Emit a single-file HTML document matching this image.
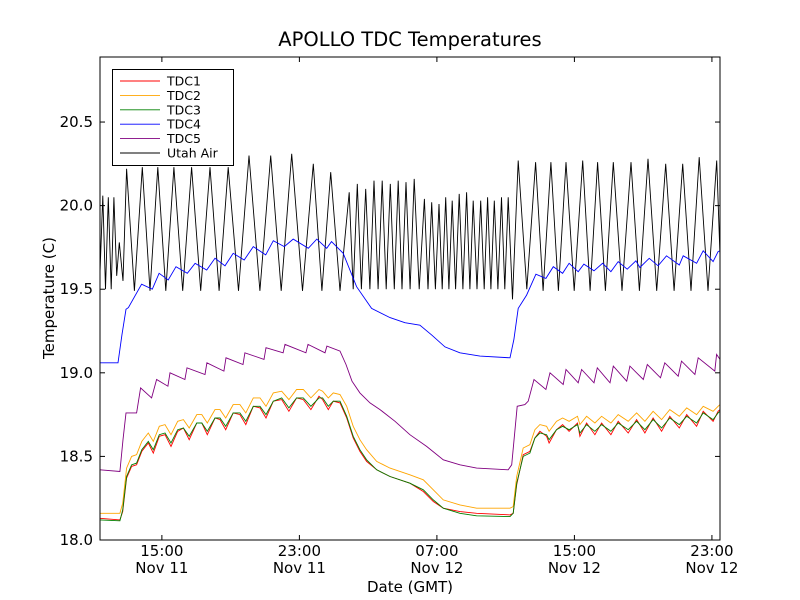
<!DOCTYPE html>
<html><head><meta charset="utf-8"><style>
body{margin:0;background:#fff;}
svg{display:block;font-family:"DejaVu Sans","Liberation Sans",sans-serif;}
</style></head><body>
<svg id="chart" width="800" height="600" viewBox="0 0 800 600">
<rect x="0" y="0" width="800" height="600" fill="#fff"/>
<text x="410" y="46" font-size="19.5" text-anchor="middle">APOLLO TDC Temperatures</text>
<text x="410" y="592" font-size="15" text-anchor="middle">Date (GMT)</text>
<text x="54" y="298" font-size="15" text-anchor="middle" transform="rotate(-90 54 298)">Temperature (C)</text>
<g id="plot"></g>
<g id="axes"></g>
<g id="legend"></g>
</svg>
<script>
const xTicks=[15,23,31,39,47];
const xTickTime=["15:00","23:00","07:00","15:00","23:00"];
const xTickDate=["Nov 11","Nov 11","Nov 12","Nov 12","Nov 12"];
const yTicks=[18.0,18.5,19.0,19.5,20.0,20.5];
const seriesNames=["TDC1","TDC2","TDC3","TDC4","TDC5","Utah Air"];
const seriesColors=["#ff0000","#ffa500","#008000","#0000ff","#800080","#000000"];
const tdcT=[11.40,12.56,12.72,12.95,13.24,13.53,13.83,14.21,14.50,14.85,15.18,15.53,15.92,16.25,16.59,17.03,17.32,17.64,18.09,18.38,18.71,19.15,19.54,19.88,20.32,20.71,21.06,21.48,21.97,22.39,22.84,23.23,23.67,24.14,24.35,24.68,24.97,25.36,25.75,26.13,26.52,26.91,27.50,28.27,29.43,30.21,30.79,31.37,32.34,33.31,35.25,35.44,35.64,36.02,36.41,36.70,36.99,37.38,37.53,37.96,38.31,38.69,39.18,39.32,39.71,40.19,40.58,41.12,41.55,42.13,42.62,43.10,43.58,44.07,44.55,45.10,45.53,46.11,46.49,47.07,47.36,47.47];
const tdc1V=[18.13,18.12,18.17,18.37,18.44,18.45,18.53,18.58,18.52,18.62,18.63,18.56,18.65,18.67,18.60,18.70,18.70,18.63,18.73,18.72,18.66,18.76,18.75,18.69,18.80,18.79,18.73,18.83,18.84,18.77,18.85,18.84,18.78,18.86,18.84,18.78,18.83,18.82,18.73,18.61,18.53,18.47,18.42,18.38,18.34,18.29,18.23,18.19,18.17,18.16,18.15,18.16,18.33,18.51,18.53,18.61,18.65,18.62,18.58,18.66,18.69,18.65,18.70,18.62,18.70,18.63,18.70,18.63,18.71,18.64,18.72,18.64,18.73,18.65,18.74,18.67,18.75,18.68,18.77,18.71,18.77,18.78];
const tdc2V=[18.16,18.16,18.22,18.43,18.50,18.51,18.59,18.64,18.59,18.68,18.69,18.63,18.71,18.72,18.67,18.75,18.75,18.70,18.78,18.78,18.73,18.81,18.81,18.76,18.85,18.85,18.80,18.88,18.89,18.84,18.90,18.90,18.85,18.90,18.89,18.85,18.88,18.87,18.80,18.68,18.60,18.54,18.47,18.43,18.39,18.36,18.30,18.24,18.21,18.19,18.19,18.20,18.38,18.55,18.57,18.66,18.69,18.68,18.65,18.71,18.73,18.71,18.74,18.69,18.74,18.70,18.74,18.70,18.75,18.71,18.76,18.71,18.77,18.72,18.78,18.74,18.79,18.75,18.80,18.77,18.80,18.81];
const tdc3V=[18.12,18.115,18.18,18.38,18.45,18.46,18.54,18.59,18.54,18.63,18.64,18.58,18.66,18.67,18.62,18.70,18.70,18.65,18.73,18.73,18.68,18.76,18.76,18.71,18.80,18.80,18.75,18.83,18.85,18.79,18.85,18.85,18.80,18.85,18.85,18.80,18.83,18.83,18.74,18.62,18.54,18.48,18.42,18.38,18.34,18.30,18.24,18.19,18.16,18.145,18.14,18.16,18.34,18.50,18.52,18.61,18.64,18.63,18.60,18.66,18.68,18.66,18.69,18.64,18.69,18.65,18.69,18.65,18.70,18.66,18.71,18.66,18.72,18.67,18.73,18.69,18.74,18.70,18.76,18.72,18.76,18.77];
const tdc4T=[11.40,12.45,12.68,12.91,13.05,13.82,14.44,14.84,15.37,15.82,16.48,16.93,17.61,18.09,18.67,19.15,19.79,20.32,21.04,21.48,22.12,22.64,23.52,24.01,24.59,24.87,25.55,26.33,27.20,28.27,29.14,30.01,30.71,31.47,32.34,33.50,35.25,35.48,35.73,36.22,36.76,37.34,37.77,38.31,38.69,39.22,39.55,40.14,40.64,41.12,41.55,42.07,42.58,42.81,43.35,43.87,44.36,45.10,45.33,46.11,46.49,47.07,47.36,47.47];
const tdc4V=[19.06,19.06,19.23,19.38,19.39,19.53,19.50,19.595,19.555,19.635,19.595,19.655,19.615,19.685,19.64,19.715,19.675,19.755,19.705,19.79,19.755,19.80,19.745,19.80,19.745,19.785,19.715,19.515,19.385,19.33,19.30,19.285,19.225,19.155,19.12,19.10,19.09,19.20,19.385,19.465,19.59,19.565,19.635,19.595,19.655,19.605,19.65,19.61,19.655,19.605,19.665,19.62,19.67,19.63,19.685,19.64,19.70,19.645,19.70,19.655,19.73,19.665,19.725,19.73];
const tdc5T=[11.40,12.56,12.74,12.91,13.53,13.76,14.40,14.69,15.35,15.47,16.34,16.46,17.51,17.62,18.61,18.73,19.72,19.83,20.94,21.06,22.05,22.16,23.38,23.50,24.49,24.60,25.36,25.71,26.06,26.52,27.11,27.69,28.56,29.43,30.40,31.37,32.34,33.31,35.15,35.35,35.67,36.12,36.31,36.65,37.34,37.58,38.35,38.51,39.22,39.42,40.14,40.33,41.07,41.26,42.04,42.23,43.01,43.24,44.01,44.26,45.04,45.23,46.01,46.20,47.17,47.27,47.47];
const tdc5V=[18.42,18.41,18.60,18.76,18.76,18.91,18.85,18.96,18.92,19.00,18.96,19.03,18.99,19.06,19.01,19.09,19.05,19.12,19.08,19.15,19.12,19.17,19.12,19.17,19.12,19.16,19.13,19.05,18.95,18.88,18.82,18.78,18.71,18.63,18.56,18.48,18.45,18.43,18.42,18.45,18.80,18.81,18.83,18.96,18.90,19.00,18.93,19.02,18.94,19.02,18.94,19.03,18.94,19.04,18.95,19.04,18.96,19.05,18.97,19.06,18.98,19.07,18.99,19.09,19.01,19.11,19.08];
const airT=[11.40,11.56,11.72,11.88,12.05,12.21,12.37,12.52,12.74,12.95,13.40,13.86,14.31,14.76,15.23,15.70,16.21,16.73,17.26,17.80,18.33,18.86,19.46,20.07,20.70,21.33,21.94,22.55,23.18,23.81,24.31,24.82,25.36,25.90,26.13,26.37,26.61,26.86,27.10,27.34,27.58,27.82,28.05,28.29,28.52,28.75,28.97,29.20,29.44,29.68,29.97,30.27,30.48,30.70,30.91,31.12,31.31,31.51,31.70,31.89,32.09,32.30,32.51,32.73,32.92,33.11,33.33,33.55,33.75,33.95,34.14,34.34,34.55,34.76,34.95,35.15,35.40,35.73,36.23,36.74,37.18,37.63,38.07,38.51,38.99,39.48,39.91,40.35,40.80,41.26,41.77,42.29,42.78,43.28,43.79,44.31,44.80,45.30,45.78,46.26,46.77,47.28,47.47];
const airV=[19.60,20.06,19.50,20.05,19.50,20.05,19.58,19.78,19.55,20.22,19.49,20.23,19.49,20.23,19.49,20.23,19.49,20.23,19.49,20.23,19.49,20.23,19.49,20.30,19.49,20.30,19.49,20.31,19.49,20.25,19.49,20.20,19.49,20.08,19.50,20.13,19.50,20.10,19.50,20.15,19.50,20.15,19.50,20.13,19.50,20.15,19.50,20.14,19.50,20.16,19.50,20.04,19.50,20.02,19.50,20.01,19.50,20.05,19.50,20.03,19.50,20.07,19.50,20.08,19.50,20.03,19.50,20.03,19.50,20.05,19.50,20.03,19.50,20.05,19.50,20.05,19.44,20.27,19.50,20.26,19.49,20.26,19.49,20.26,19.49,20.27,19.49,20.26,19.49,20.26,19.49,20.26,19.49,20.28,19.49,20.25,19.49,20.25,19.49,20.29,19.49,20.27,19.70];

const NS="http://www.w3.org/2000/svg";
const L=100,R=720,T=57,B=540;
const xMin=11.4,xMax=47.47,yMin=18.0,yMax=20.889;
function xs(h){return L+(h-xMin)/(xMax-xMin)*(R-L);}
function ys(v){return B-(v-yMin)/(yMax-yMin)*(B-T);}
function mk(tag,attrs,parent){const e=document.createElementNS(NS,tag);for(const k in attrs)e.setAttribute(k,attrs[k]);parent.appendChild(e);return e;}
const plot=document.getElementById('plot'),axes=document.getElementById('axes'),legend=document.getElementById('legend');
const clip=mk('clipPath',{id:'clp'},plot);mk('rect',{x:L,y:T,width:R-L,height:B-T},clip);
const seriesT=[tdcT,tdcT,tdcT,tdc4T,tdc5T,airT];
const seriesV=[tdc1V,tdc2V,tdc3V,tdc4V,tdc5V,airV];
const slugs=["tdc1","tdc2","tdc3","tdc4","tdc5","utah-air"];
const order=[5,4,3,1,0,2];
order.forEach(i=>{
  let d="";seriesT[i].forEach((t,j)=>{d+=(j?"L":"M")+xs(t).toFixed(1)+" "+ys(seriesV[i][j]).toFixed(1);});
  const p=mk('path',{d:d,fill:'none',stroke:seriesColors[i],'stroke-width':0.9,'clip-path':'url(#clp)'},plot);
  
  
});
const frame=mk('rect',{x:L,y:T,width:R-L,height:B-T,fill:'none',stroke:'#000','stroke-width':1},axes);


yTicks.forEach(v=>{
  const y=ys(v);
  mk('line',{x1:L,x2:L+5,y1:y,y2:y,stroke:'#000'},axes);
  mk('line',{x1:R-5,x2:R,y1:y,y2:y,stroke:'#000'},axes);
  const t=mk('text',{x:L-7,y:y+5,'font-size':15,'text-anchor':'end'},axes);
  t.textContent=v.toFixed(1);
  
  
});
xTicks.forEach((h,i)=>{
  const x=xs(h);
  mk('line',{x1:x,x2:x,y1:B,y2:B-5,stroke:'#000'},axes);
  mk('line',{x1:x,x2:x,y1:T,y2:T+5,stroke:'#000'},axes);
  const t=mk('text',{x:x,y:556,'font-size':15,'text-anchor':'middle'},axes);
  t.textContent=xTickTime[i];
  
  
  const t2=mk('text',{x:x,y:573,'font-size':15,'text-anchor':'middle'},axes);
  t2.textContent=xTickDate[i];
  
  
});
const lb=mk('rect',{x:112.5,y:69.5,width:121,height:96,fill:'#fff',stroke:'#000','stroke-width':1},legend);


seriesNames.forEach((n,i)=>{
  const y=81+i*14.4;
  const g=mk('g',{},legend);
  
  
  mk('line',{x1:120,x2:160,y1:y,y2:y,stroke:seriesColors[i],'stroke-width':0.9},g);
  const t=mk('text',{x:167,y:y+4.5,'font-size':12.5},g);
  t.textContent=n;
});
</script>
</body></html>
